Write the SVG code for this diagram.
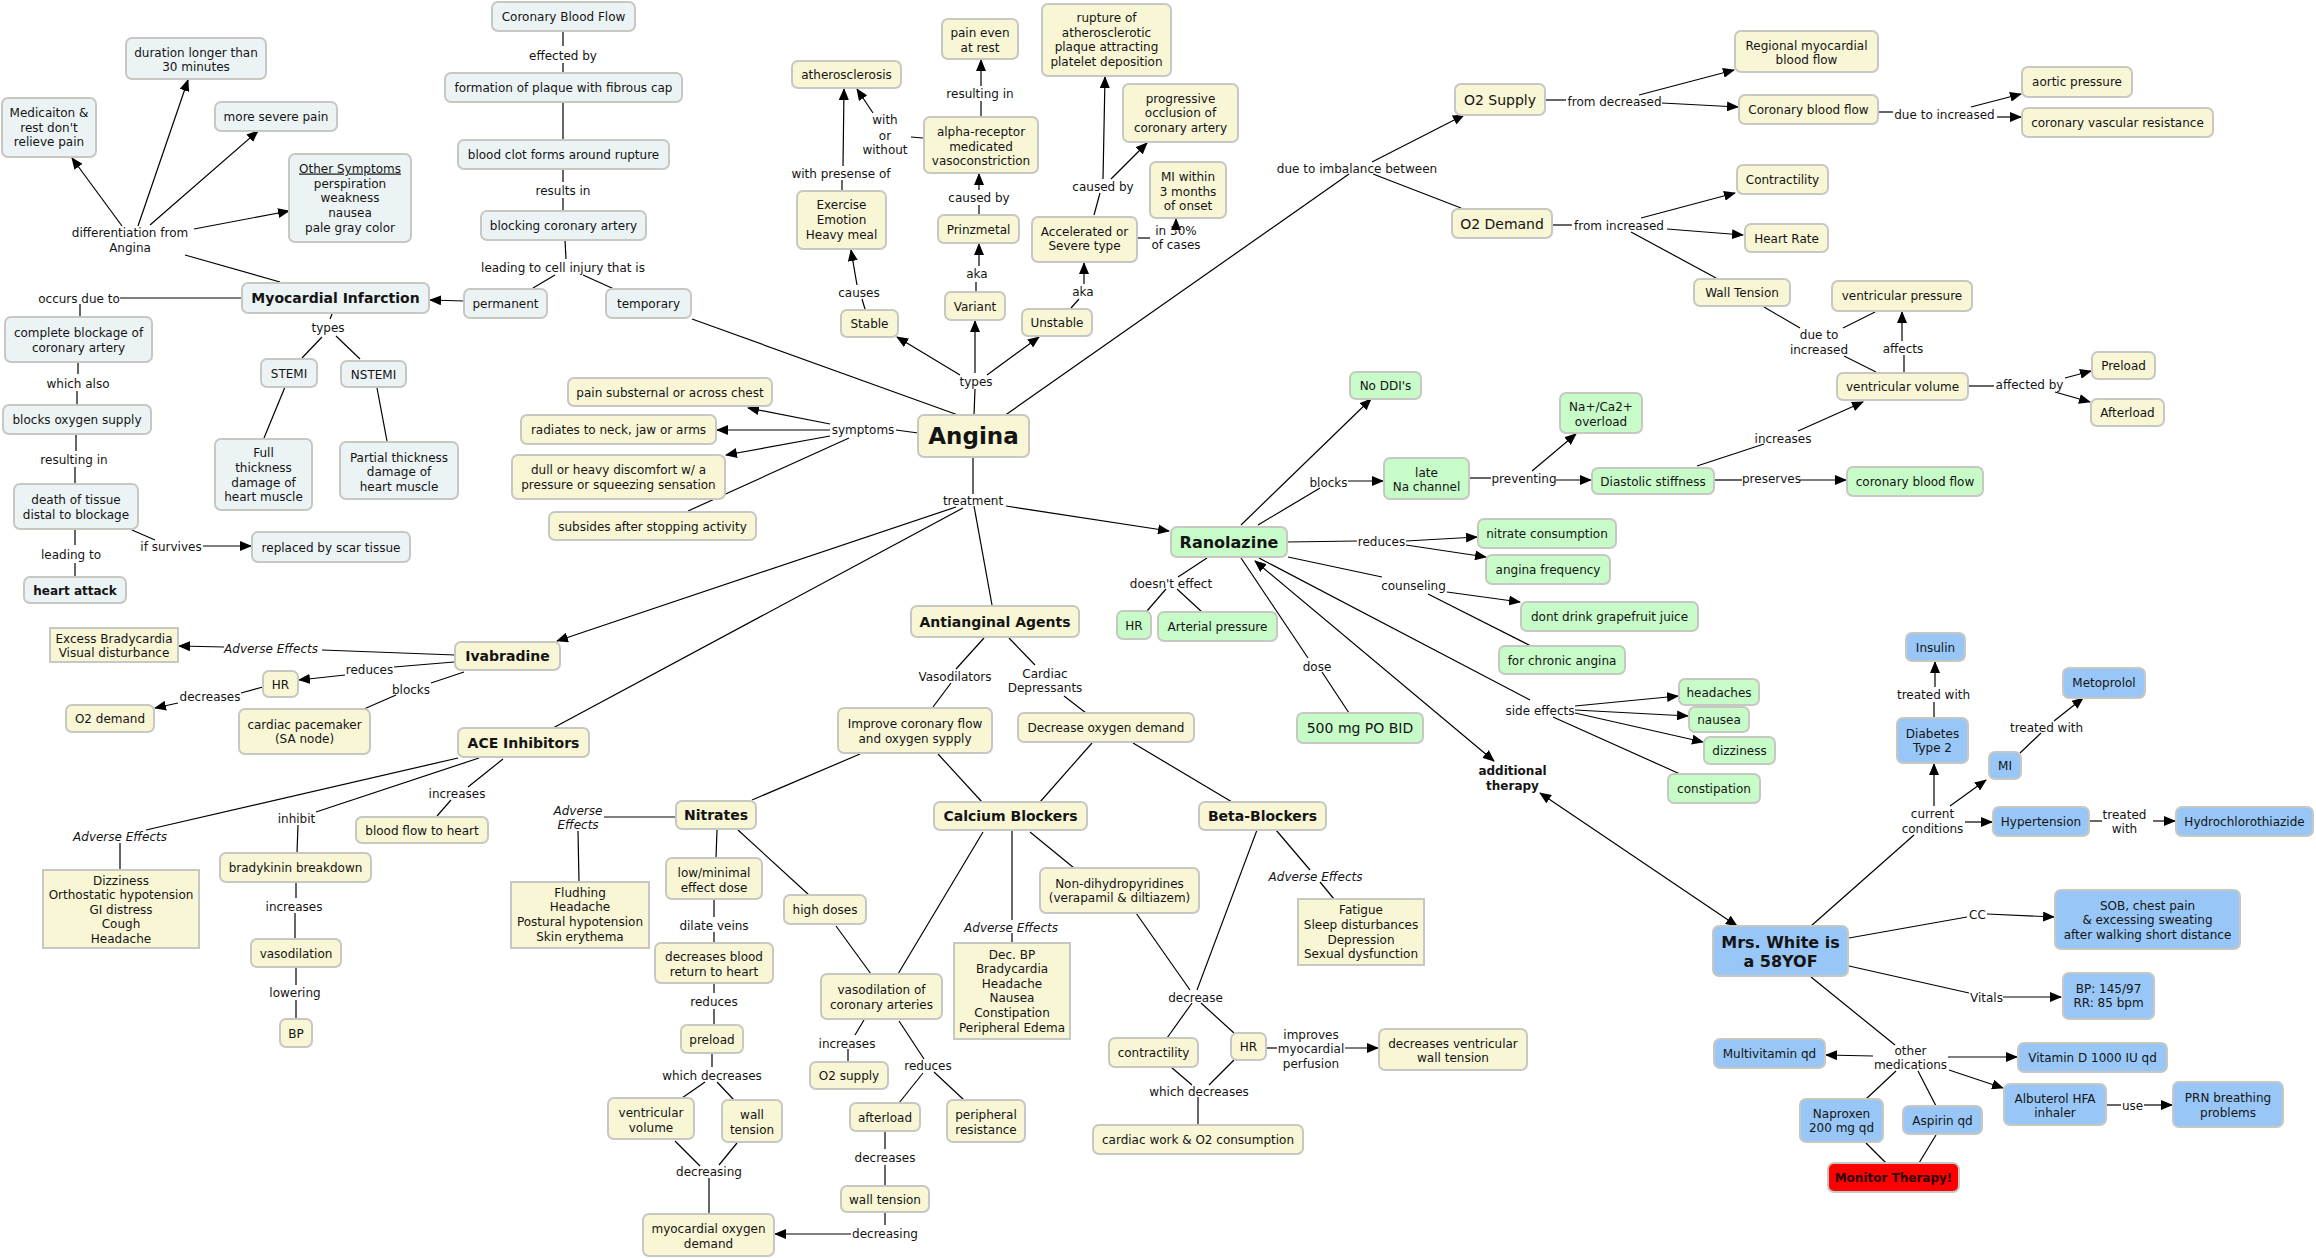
<svg xmlns="http://www.w3.org/2000/svg" width="2316" height="1258" viewBox="0 0 2316 1258">
<style>
text{font-family:"DejaVu Sans",Verdana,sans-serif;font-size:12px;fill:#141414;text-anchor:middle}
.n{stroke:#C8C8C2;stroke-width:2}
.b{fill:#ECF3F5}.y{fill:#F8F6D4}.g{fill:#C7FBC8}.l{fill:#98C7F7}.r{fill:#FF0000}
.bo{font-weight:bold}
.it{font-style:italic}
.f14{font-size:14px}.f16{font-size:16px}
#conn path{fill:none;stroke:#000;stroke-width:1.2}
#conn path.a{marker-end:url(#ah)}
#conn path.d{marker-start:url(#ah);marker-end:url(#ah)}
</style>
<defs><marker id="ah" viewBox="0 0 12 10" refX="11" refY="5" markerWidth="12" markerHeight="10" markerUnits="userSpaceOnUse" orient="auto-start-reverse"><path d="M0,0 L12,5 L0,10 z" fill="#000"/></marker></defs>
<rect width="2316" height="1258" fill="#fff"/>
<g id="conn">
<path d="M563,31 L563,46"/><path d="M563,63 L563,73"/>
<path d="M563,102 L563,140"/>
<path d="M563,169 L563,182"/><path d="M563,198 L563,211"/>
<path d="M565,240 L566,259"/><path d="M555,275 L533,288"/><path d="M583,275 L614,289"/>
<path class="a" d="M464,301 L430,300"/>
<path d="M280,282 L185,255"/>
<path class="a" d="M122,226 L72,158"/><path class="a" d="M138,226 L188,80"/><path class="a" d="M150,225 L258,131"/><path class="a" d="M194,229 L289,211"/>
<path d="M242,298 L120,298"/><path d="M80,304 L80,317"/>
<path d="M78,363 L78,374"/><path d="M77,391 L77,405"/>
<path d="M76,434 L76,451"/><path d="M75,467 L75,484"/>
<path d="M75,530 L75,545"/><path d="M75,563 L75,577"/>
<path d="M132,530 L155,540"/><path class="a" d="M203,546 L251,546"/>
<path d="M332,314 L330,319"/><path d="M322,337 L302,358"/><path d="M336,336 L360,359"/>
<path d="M285,387 L264,438"/><path d="M377,388 L387,441"/>
<path d="M692,319 L958,415"/>
<path d="M974,415 L975,389"/><path class="a" d="M975,373 L975,321"/><path class="a" d="M960,375 L897,337"/><path class="a" d="M987,375 L1039,337"/>
<path d="M865,309 L862,299"/><path class="a" d="M857,285 L851,250"/>
<path d="M842,190 L842,180"/><path class="a" d="M843,166 L844,89"/>
<path d="M923,138 L911,137"/><path class="a" d="M873,113 L857,89"/>
<path d="M981,116 L981,101"/><path class="a" d="M981,86 L981,60"/>
<path d="M979,214 L979,205"/><path class="a" d="M979,190 L979,174"/>
<path d="M976,292 L976,282"/><path class="a" d="M979,266 L979,244"/>
<path d="M1071,308 L1079,299"/><path class="a" d="M1084,284 L1084,263"/>
<path d="M1094,215 L1100,193"/><path class="a" d="M1103,179 L1105,77"/><path class="a" d="M1111,179 L1147,143"/>
<path d="M1137,238 L1150,238"/><path class="a" d="M1176,229 L1176,219"/>
<path d="M1004,416 L1349,174"/>
<path class="a" d="M1372,162 L1464,115"/><path d="M1373,174 L1461,208"/>
<path d="M1545,100 L1566,100"/><path class="a" d="M1639,95 L1734,70"/><path class="a" d="M1662,103 L1738,107"/>
<path d="M1878,112 L1893,112"/><path class="a" d="M1971,107 L2021,94"/><path class="a" d="M1997,117 L2021,117"/>
<path d="M1552,225 L1572,225"/><path class="a" d="M1641,218 L1735,193"/><path class="a" d="M1667,229 L1743,235"/><path d="M1631,232 L1716,278"/>
<path d="M1764,307 L1800,328"/><path d="M1843,328 L1875,312"/><path d="M1844,356 L1876,372"/>
<path d="M1904,372 L1904,355"/><path class="a" d="M1902,341 L1902,312"/>
<path d="M1968,386 L1994,386"/><path class="a" d="M2065,378 L2091,371"/><path class="a" d="M2055,392 L2090,402"/>
<path d="M918,433 L896,430"/><path class="a" d="M830,424 L748,408"/><path class="a" d="M830,430 L717,430"/><path class="a" d="M830,436 L726,455"/><path d="M849,438 L688,511"/>
<path d="M973,457 L973,494"/>
<path class="a" d="M956,507 L557,641"/><path d="M963,508 L553,728"/><path d="M974,506 L992,605"/><path class="a" d="M1006,506 L1169,531"/>
<path d="M455,655 L322,650"/><path class="a" d="M224,647 L179,646"/>
<path d="M454,662 L394,667"/><path class="a" d="M345,675 L299,680"/>
<path d="M263,687 L241,693"/><path class="a" d="M178,703 L155,708"/>
<path d="M464,672 L431,683"/><path d="M396,695 L364,709"/>
<path d="M458,758 L146,830"/><path d="M479,758 L316,812"/><path d="M298,825 L297,853"/><path d="M503,759 L468,787"/><path d="M451,800 L437,816"/>
<path d="M120,843 L120,870"/>
<path d="M296,882 L296,898"/><path d="M295,913 L295,939"/>
<path d="M296,967 L296,985"/><path d="M296,1000 L296,1019"/>
<path d="M604,817 L676,817"/><path d="M578,831 L579,882"/>
<path d="M984,638 L956,669"/><path d="M951,683 L933,707"/><path d="M1009,638 L1035,665"/><path d="M1064,696 L1086,713"/>
<path d="M860,754 L752,800"/><path d="M938,754 L982,802"/><path d="M1092,743 L1040,802"/><path d="M1133,743 L1232,802"/>
<path d="M717,830 L716,858"/><path d="M738,830 L809,895"/>
<path d="M714,899 L714,917"/><path d="M714,932 L714,943"/>
<path d="M714,983 L714,993"/><path d="M714,1009 L714,1025"/>
<path d="M712,1053 L712,1067"/><path d="M705,1082 L682,1098"/><path d="M717,1082 L734,1100"/>
<path d="M675,1141 L700,1166"/><path d="M737,1143 L719,1165"/><path d="M709,1178 L709,1214"/>
<path d="M836,926 L871,974"/><path d="M983,832 L898,974"/>
<path d="M864,1020 L855,1035"/><path d="M848,1049 L848,1062"/>
<path d="M899,1021 L924,1059"/><path d="M923,1073 L899,1103"/><path d="M934,1072 L964,1100"/>
<path d="M885,1131 L885,1149"/><path d="M885,1165 L885,1186"/>
<path d="M885,1212 L885,1225"/><path class="a" d="M851,1234 L775,1234"/>
<path d="M1012,830 L1012,920"/><path d="M1012,933 L1012,943"/><path d="M1030,832 L1074,868"/>
<path d="M1257,830 L1197,990"/><path d="M1276,830 L1310,870"/><path d="M1320,882 L1334,899"/>
<path d="M1136,913 L1190,990"/>
<path d="M1192,1003 L1167,1038"/><path d="M1201,1003 L1234,1033"/>
<path d="M1266,1048 L1277,1048"/><path class="a" d="M1345,1048 L1378,1048"/>
<path d="M1171,1067 L1192,1085"/><path d="M1234,1060 L1209,1085"/><path d="M1198,1097 L1198,1125"/>
<path class="a" d="M1241,525 L1371,399"/>
<path d="M1258,525 L1320,488"/><path class="a" d="M1348,481 L1383,481"/>
<path d="M1469,478 L1491,478"/><path class="a" d="M1556,480 L1591,480"/><path class="a" d="M1532,471 L1576,434"/>
<path d="M1697,466 L1764,444"/><path class="a" d="M1798,431 L1863,402"/>
<path d="M1714,480 L1742,480"/><path class="a" d="M1800,480 L1846,480"/>
<path d="M1287,542 L1357,541"/><path class="a" d="M1406,541 L1477,537"/><path class="a" d="M1406,545 L1486,557"/>
<path d="M1288,557 L1382,577"/><path class="a" d="M1447,592 L1520,602"/><path d="M1428,594 L1531,646"/>
<path d="M1207,558 L1178,577"/><path d="M1166,589 L1147,611"/><path d="M1177,589 L1202,612"/>
<path d="M1349,713 L1322,672"/><path d="M1308,658 L1241,558"/>
<path class="d" d="M1255,561 L1494,761"/>
<path d="M1259,558 L1530,700"/><path class="a" d="M1575,706 L1678,696"/><path class="a" d="M1575,710 L1688,716"/><path class="a" d="M1575,713 L1703,742"/><path d="M1553,717 L1680,774"/>
<path class="d" d="M1540,793 L1737,926"/>
<path d="M1934,718 L1934,702"/><path class="a" d="M1935,687 L1935,662"/>
<path d="M2020,753 L2041,733"/><path class="a" d="M2054,721 L2083,698"/>
<path class="a" d="M1934,806 L1934,764"/><path class="a" d="M1950,806 L1986,780"/><path class="a" d="M1965,822 L1992,822"/>
<path d="M2089,821 L2102,821"/><path class="a" d="M2153,821 L2175,821"/>
<path d="M1914,835 L1811,926"/>
<path d="M1849,938 L1967,917"/><path class="a" d="M1987,914 L2054,917"/>
<path d="M1849,966 L1969,993"/><path class="a" d="M2003,997 L2061,997"/>
<path d="M1811,977 L1895,1045"/><path class="a" d="M1873,1056 L1826,1055"/><path class="a" d="M1948,1057 L2017,1057"/><path class="a" d="M1949,1070 L2003,1088"/>
<path d="M2106,1105 L2121,1105"/><path class="a" d="M2144,1105 L2172,1105"/>
<path d="M1896,1071 L1866,1099"/><path d="M1918,1071 L1936,1106"/>
<path d="M1866,1143 L1886,1163"/><path d="M1936,1135 L1919,1163"/>
<g id="labels">
<text x="563" y="59.5">effected by</text>
<text x="563" y="194.5">results in</text>
<text x="563" y="271.5">leading to cell injury that is</text>
<text x="130"><tspan x="130" y="236.5">differentiation from</tspan><tspan x="130" y="251.5">Angina</tspan></text>
<text x="328" y="331.5">types</text>
<text x="79" y="302.5">occurs due to</text>
<text x="78" y="387.5">which also</text>
<text x="74" y="463.5">resulting in</text>
<text x="71" y="558.5">leading to</text>
<text x="171" y="550.5">if survives</text>
<text x="863" y="433.5">symptoms</text>
<text x="973" y="504.5">treatment</text>
<text x="976" y="385.5">types</text>
<text x="859" y="296.5">causes</text>
<text x="841" y="177.5">with presense of</text>
<text x="885"><tspan x="885" y="123.5">with</tspan><tspan x="885" y="139.5">or</tspan><tspan x="885" y="153.5">without</tspan></text>
<text x="980" y="97.5">resulting in</text>
<text x="979" y="201.5">caused by</text>
<text x="977" y="277.5">aka</text>
<text x="1083" y="295.5">aka</text>
<text x="1103" y="190.5">caused by</text>
<text x="1176"><tspan x="1176" y="234.5">in 30%</tspan><tspan x="1176" y="248.5">of cases</tspan></text>
<text x="1357" y="172.5">due to imbalance between</text>
<text x="1614.5" y="105.5">from decreased</text>
<text x="1944.5" y="118.5">due to increased</text>
<text x="1619" y="229.5">from increased</text>
<text x="1819"><tspan x="1819" y="338.5">due to</tspan><tspan x="1819" y="353.5">increased</tspan></text>
<text x="1903" y="352.5">affects</text>
<text x="2029.5" y="388.5">affected by</text>
<text x="1783" y="442.5">increases</text>
<text x="1771.5" y="482.5">preserves</text>
<text x="1328.5" y="486.5">blocks</text>
<text x="1524" y="482.5">preventing</text>
<text x="1381.5" y="545.5">reduces</text>
<text x="1413.5" y="589.5">counseling</text>
<text x="1171" y="587.5">doesn't effect</text>
<text x="1317" y="670.5">dose</text>
<text x="1540" y="714.5">side effects</text>
<text class="bo" x="1512.5"><tspan x="1512.5" y="774.5">additional</tspan><tspan x="1512.5" y="789.5">therapy</tspan></text>
<text x="1933.5" y="698.5">treated with</text>
<text x="2046.5" y="731.5">treated with</text>
<text x="1932.5"><tspan x="1932.5" y="817.5">current</tspan><tspan x="1932.5" y="832.5">conditions</tspan></text>
<text x="2124.5"><tspan x="2124.5" y="818.5">treated</tspan><tspan x="2124.5" y="832.5">with</tspan></text>
<text x="1977.5" y="918.5">CC</text>
<text x="1986.5" y="1001.5">Vitals</text>
<text x="1910.5"><tspan x="1910.5" y="1054.5">other</tspan><tspan x="1910.5" y="1068.5">medications</tspan></text>
<text x="2132.5" y="1109.5">use</text>
<text class="it" x="271" y="652.5">Adverse Effects</text>
<text x="369.5" y="673.5">reduces</text>
<text x="210" y="700.5">decreases</text>
<text x="411" y="693.5">blocks</text>
<text class="it" x="120" y="840.5">Adverse Effects</text>
<text x="296.5" y="822.5">inhibit</text>
<text x="457" y="797.5">increases</text>
<text x="294" y="910.5">increases</text>
<text x="295" y="996.5">lowering</text>
<text class="it" x="578"><tspan x="578" y="814.5">Adverse</tspan><tspan x="578" y="828.5">Effects</tspan></text>
<text x="955" y="680.5">Vasodilators</text>
<text x="1045"><tspan x="1045" y="677.5">Cardiac</tspan><tspan x="1045" y="691.5">Depressants</tspan></text>
<text x="714" y="929.5">dilate veins</text>
<text x="714" y="1005.5">reduces</text>
<text x="712" y="1079.5">which decreases</text>
<text x="709" y="1175.5">decreasing</text>
<text x="847" y="1047.5">increases</text>
<text x="928" y="1069.5">reduces</text>
<text x="885" y="1161.5">decreases</text>
<text x="885" y="1237.5">decreasing</text>
<text class="it" x="1011" y="931.5">Adverse Effects</text>
<text class="it" x="1315.5" y="880.5">Adverse Effects</text>
<text x="1195.5" y="1001.5">decrease</text>
<text x="1311"><tspan x="1311" y="1038.5">improves</tspan><tspan x="1311" y="1052.5">myocardial</tspan><tspan x="1311" y="1067.5">perfusion</tspan></text>
<text x="1199" y="1095.5">which decreases</text>
</g>
</g>
<g id="n-cbf"><rect class="n b" x="492" y="2" width="143" height="29" rx="6"/><text x="563.5" y="20.5">Coronary Blood Flow</text></g>
<g id="n-form"><rect class="n b" x="445" y="73" width="237" height="29" rx="6"/><text x="563.5" y="91.5">formation of plaque with fibrous cap</text></g>
<g id="n-clot"><rect class="n b" x="458" y="140" width="211" height="29" rx="6"/><text x="563.5" y="158.5">blood clot forms around rupture</text></g>
<g id="n-blockca"><rect class="n b" x="481" y="211" width="165" height="29" rx="6"/><text x="563.5" y="229.5">blocking coronary artery</text></g>
<g id="n-perm"><rect class="n b" x="464" y="289" width="83" height="29" rx="6"/><text x="505.5" y="307.5">permanent</text></g>
<g id="n-temp"><rect class="n b" x="606" y="289" width="85" height="29" rx="6"/><text x="648.5" y="307.5">temporary</text></g>
<g id="n-mi"><rect class="n b" x="242" y="283" width="187" height="30" rx="6"/><text class="bo f14" x="335.5" y="303">Myocardial Infarction</text></g>
<g id="n-dur"><rect class="n b" x="126" y="38" width="140" height="41" rx="6"/><text x="196"><tspan x="196" y="56.5">duration longer than</tspan><tspan x="196" y="70.5">30 minutes</tspan></text></g>
<g id="n-med"><rect class="n b" x="2" y="98" width="94" height="59" rx="6"/><text x="49"><tspan x="49" y="116.5">Medicaiton &amp;</tspan><tspan x="49" y="131.5">rest don't</tspan><tspan x="49" y="145.5">relieve pain</tspan></text></g>
<g id="n-sev"><rect class="n b" x="215" y="102" width="122" height="29" rx="6"/><text x="276" y="120.5">more severe pain</text></g>
<g id="n-oth"><rect class="n b" x="289" y="154" width="122" height="88" rx="6"/><text x="350"><tspan x="350" y="172.5" text-decoration="underline">Other Symptoms</tspan><tspan x="350" y="187.5">perspiration</tspan><tspan x="350" y="201.5">weakness</tspan><tspan x="350" y="216.5">nausea</tspan><tspan x="350" y="231.5">pale gray color</tspan></text></g>
<g id="n-comp"><rect class="n b" x="5" y="317" width="147" height="45" rx="6"/><text x="78.5"><tspan x="78.5" y="336.5">complete blockage of</tspan><tspan x="78.5" y="351.5">coronary artery</tspan></text></g>
<g id="n-stemi"><rect class="n b" x="261" y="359" width="56" height="28" rx="6"/><text x="289" y="377.5">STEMI</text></g>
<g id="n-nstemi"><rect class="n b" x="341" y="361" width="65" height="26" rx="6"/><text x="373.5" y="378.5">NSTEMI</text></g>
<g id="n-box"><rect class="n b" x="3" y="405" width="148" height="29" rx="6"/><text x="77" y="424">blocks oxygen supply</text></g>
<g id="n-death"><rect class="n b" x="14" y="484" width="124" height="45" rx="6"/><text x="76"><tspan x="76" y="503.5">death of tissue</tspan><tspan x="76" y="518.5">distal to blockage</tspan></text></g>
<g id="n-ha"><rect class="n b" x="24" y="577" width="102" height="26" rx="6"/><text class="bo" x="75" y="594.5">heart attack</text></g>
<g id="n-scar"><rect class="n b" x="252" y="532" width="158" height="30" rx="6"/><text x="331" y="551.5">replaced by scar tissue</text></g>
<g id="n-full"><rect class="n b" x="215" y="439" width="97" height="71" rx="6"/><text x="263.5"><tspan x="263.5" y="457">Full</tspan><tspan x="263.5" y="471.5">thickness</tspan><tspan x="263.5" y="486.5">damage of</tspan><tspan x="263.5" y="501">heart muscle</tspan></text></g>
<g id="n-part"><rect class="n b" x="340" y="442" width="118" height="57" rx="6"/><text x="399"><tspan x="399" y="461.5">Partial thickness</tspan><tspan x="399" y="475.5">damage of</tspan><tspan x="399" y="490.5">heart muscle</tspan></text></g>
<g id="n-angina"><rect class="n y" x="918" y="415" width="111" height="42" rx="6"/><text class="bo" style="font-size:23px" x="973.5" y="444">Angina</text></g>
<g id="n-pain"><rect class="n y" x="568" y="378" width="204" height="28" rx="6"/><text x="670" y="396.5">pain substernal or across chest</text></g>
<g id="n-rad"><rect class="n y" x="521" y="415" width="195" height="29" rx="6"/><text x="618.5" y="433.5">radiates to neck, jaw or arms</text></g>
<g id="n-dull"><rect class="n y" x="512" y="455" width="213" height="44" rx="6"/><text x="618.5"><tspan x="618.5" y="473.5">dull or heavy discomfort w/ a</tspan><tspan x="618.5" y="488.5">pressure or squeezing sensation</tspan></text></g>
<g id="n-sub"><rect class="n y" x="549" y="512" width="207" height="28" rx="6"/><text x="652.5" y="530.5">subsides after stopping activity</text></g>
<g id="n-ath"><rect class="n y" x="792" y="61" width="109" height="27" rx="6"/><text x="846.5" y="78.5">atherosclerosis</text></g>
<g id="n-rest"><rect class="n y" x="942" y="19" width="76" height="40" rx="6"/><text x="980"><tspan x="980" y="36.5">pain even</tspan><tspan x="980" y="51.5">at rest</tspan></text></g>
<g id="n-rupt"><rect class="n y" x="1042" y="4" width="129" height="72" rx="6"/><text x="1106.5"><tspan x="1106.5" y="21.5">rupture of</tspan><tspan x="1106.5" y="36.5">atherosclerotic</tspan><tspan x="1106.5" y="50.5">plaque attracting</tspan><tspan x="1106.5" y="65.5">platelet deposition</tspan></text></g>
<g id="n-prog"><rect class="n y" x="1123" y="84" width="115" height="58" rx="6"/><text x="1180.5"><tspan x="1180.5" y="102.5">progressive</tspan><tspan x="1180.5" y="116.5">occlusion of</tspan><tspan x="1180.5" y="131.5">coronary artery</tspan></text></g>
<g id="n-miw"><rect class="n y" x="1150" y="162" width="76" height="56" rx="6"/><text x="1188"><tspan x="1188" y="180.5">MI within</tspan><tspan x="1188" y="195.5">3 months</tspan><tspan x="1188" y="209.5">of onset</tspan></text></g>
<g id="n-ex"><rect class="n y" x="797" y="191" width="89" height="58" rx="6"/><text x="841.5"><tspan x="841.5" y="208.5">Exercise</tspan><tspan x="841.5" y="223.5">Emotion</tspan><tspan x="841.5" y="238.5">Heavy meal</tspan></text></g>
<g id="n-alpha"><rect class="n y" x="924" y="117" width="114" height="56" rx="6"/><text x="981"><tspan x="981" y="135.5">alpha-receptor</tspan><tspan x="981" y="150.5">medicated</tspan><tspan x="981" y="164.5">vasoconstriction</tspan></text></g>
<g id="n-prinz"><rect class="n y" x="938" y="215" width="81" height="28" rx="6"/><text x="978.5" y="233.5">Prinzmetal</text></g>
<g id="n-var"><rect class="n y" x="945" y="292" width="60" height="28" rx="6"/><text x="975" y="310.5">Variant</text></g>
<g id="n-stable"><rect class="n y" x="841" y="310" width="57" height="27" rx="6"/><text x="869.5" y="328">Stable</text></g>
<g id="n-unst"><rect class="n y" x="1022" y="309" width="70" height="27" rx="6"/><text x="1057" y="327">Unstable</text></g>
<g id="n-acc"><rect class="n y" x="1032" y="217" width="105" height="45" rx="6"/><text x="1084.5"><tspan x="1084.5" y="235.5">Accelerated or</tspan><tspan x="1084.5" y="249.5">Severe type</tspan></text></g>
<g id="n-o2s"><rect class="n y" x="1455" y="84" width="90" height="31" rx="6"/><text class="f14" x="1500" y="105">O2 Supply</text></g>
<g id="n-o2d"><rect class="n y" x="1452" y="209" width="100" height="29" rx="6"/><text class="f14" x="1502" y="229">O2 Demand</text></g>
<g id="n-reg"><rect class="n y" x="1735" y="31" width="143" height="41" rx="6"/><text x="1806.5"><tspan x="1806.5" y="49.5">Regional myocardial</tspan><tspan x="1806.5" y="63.5">blood flow</tspan></text></g>
<g id="n-cbf2"><rect class="n y" x="1739" y="95" width="139" height="29" rx="6"/><text x="1808.5" y="113.5">Coronary blood flow</text></g>
<g id="n-aort"><rect class="n y" x="2022" y="67" width="110" height="30" rx="6"/><text x="2077" y="85.5">aortic pressure</text></g>
<g id="n-cvr"><rect class="n y" x="2022" y="108" width="191" height="29" rx="6"/><text x="2117.5" y="126.5">coronary vascular resistance</text></g>
<g id="n-contr"><rect class="n y" x="1737" y="165" width="91" height="29" rx="6"/><text x="1782.5" y="183.5">Contractility</text></g>
<g id="n-hrate"><rect class="n y" x="1745" y="224" width="83" height="28" rx="6"/><text x="1786.5" y="242.5">Heart Rate</text></g>
<g id="n-wt"><rect class="n y" x="1694" y="279" width="96" height="27" rx="6"/><text x="1742" y="297">Wall Tension</text></g>
<g id="n-vp"><rect class="n y" x="1832" y="281" width="140" height="30" rx="6"/><text x="1902" y="300">ventricular pressure</text></g>
<g id="n-vv"><rect class="n y" x="1837" y="373" width="131" height="27" rx="6"/><text x="1902.5" y="391">ventricular volume</text></g>
<g id="n-pre"><rect class="n y" x="2092" y="352" width="63" height="27" rx="6"/><text x="2123.5" y="370">Preload</text></g>
<g id="n-aft"><rect class="n y" x="2091" y="399" width="73" height="27" rx="6"/><text x="2127.5" y="417">Afterload</text></g>
<g id="n-iva"><rect class="n y" x="455" y="642" width="105" height="28" rx="6"/><text class="bo f14" x="507.5" y="661">Ivabradine</text></g>
<g id="n-exb"><rect class="n y" x="50" y="628" width="128" height="34"/><text x="114"><tspan x="114" y="642.5">Excess Bradycardia</tspan><tspan x="114" y="656.5">Visual disturbance</tspan></text></g>
<g id="n-hr1"><rect class="n y" x="263" y="671" width="35" height="26" rx="6"/><text x="280.5" y="688.5">HR</text></g>
<g id="n-o2dem"><rect class="n y" x="66" y="705" width="88" height="27" rx="6"/><text x="110" y="723">O2 demand</text></g>
<g id="n-pace"><rect class="n y" x="239" y="709" width="131" height="45" rx="6"/><text x="304.5"><tspan x="304.5" y="728.5">cardiac pacemaker</tspan><tspan x="304.5" y="742.5">(SA node)</tspan></text></g>
<g id="n-ace"><rect class="n y" x="458" y="728" width="131" height="29" rx="6"/><text class="bo f14" x="523.5" y="747.5">ACE Inhibitors</text></g>
<g id="n-bfh"><rect class="n y" x="356" y="817" width="132" height="26" rx="6"/><text x="422" y="834.5">blood flow to heart</text></g>
<g id="n-dizz"><rect class="n y" x="43" y="870" width="156" height="78"/><text x="121"><tspan x="121" y="884.5">Dizziness</tspan><tspan x="121" y="898.5">Orthostatic hypotension</tspan><tspan x="121" y="913.5">GI distress</tspan><tspan x="121" y="927.5">Cough</tspan><tspan x="121" y="942.5">Headache</tspan></text></g>
<g id="n-brad"><rect class="n y" x="220" y="853" width="151" height="29" rx="6"/><text x="295.5" y="871.5">bradykinin breakdown</text></g>
<g id="n-vaso"><rect class="n y" x="251" y="939" width="90" height="28" rx="6"/><text x="296" y="957.5">vasodilation</text></g>
<g id="n-bp"><rect class="n y" x="280" y="1019" width="32" height="28" rx="6"/><text x="296" y="1037.5">BP</text></g>
<g id="n-flud"><rect class="n y" x="511" y="882" width="138" height="66"/><text x="580"><tspan x="580" y="896.5">Fludhing</tspan><tspan x="580" y="910.5">Headache</tspan><tspan x="580" y="925.5">Postural hypotension</tspan><tspan x="580" y="940.5">Skin erythema</tspan></text></g>
<g id="n-anti"><rect class="n y" x="911" y="606" width="168" height="31" rx="6"/><text class="bo f14" x="995" y="626.5">Antianginal Agents</text></g>
<g id="n-impr"><rect class="n y" x="838" y="708" width="154" height="45" rx="6"/><text x="915"><tspan x="915" y="727.5">Improve coronary flow</tspan><tspan x="915" y="742.5">and oxygen sypply</tspan></text></g>
<g id="n-decr"><rect class="n y" x="1018" y="713" width="176" height="29" rx="6"/><text x="1106" y="732">Decrease oxygen demand</text></g>
<g id="n-nit"><rect class="n y" x="676" y="801" width="80" height="28" rx="6"/><text class="bo f14" x="716" y="820">Nitrates</text></g>
<g id="n-cal"><rect class="n y" x="934" y="802" width="153" height="28" rx="6"/><text class="bo f14" x="1010.5" y="821">Calcium Blockers</text></g>
<g id="n-beta"><rect class="n y" x="1199" y="802" width="127" height="28" rx="6"/><text class="bo f14" x="1262.5" y="821">Beta-Blockers</text></g>
<g id="n-low"><rect class="n y" x="666" y="858" width="96" height="41" rx="6"/><text x="714"><tspan x="714" y="876.5">low/minimal</tspan><tspan x="714" y="891.5">effect dose</tspan></text></g>
<g id="n-dbr"><rect class="n y" x="655" y="943" width="118" height="40" rx="6"/><text x="714"><tspan x="714" y="960.5">decreases blood</tspan><tspan x="714" y="975.5">return to heart</tspan></text></g>
<g id="n-preload"><rect class="n y" x="681" y="1025" width="62" height="28" rx="6"/><text x="712" y="1043.5">preload</text></g>
<g id="n-vv2"><rect class="n y" x="608" y="1098" width="86" height="41" rx="6"/><text x="651"><tspan x="651" y="1116.5">ventricular</tspan><tspan x="651" y="1131.5">volume</tspan></text></g>
<g id="n-wt2"><rect class="n y" x="722" y="1100" width="60" height="42" rx="6"/><text x="752"><tspan x="752" y="1118.5">wall</tspan><tspan x="752" y="1133.5">tension</tspan></text></g>
<g id="n-mod"><rect class="n y" x="643" y="1214" width="131" height="42" rx="6"/><text x="708.5"><tspan x="708.5" y="1232.5">myocardial oxygen</tspan><tspan x="708.5" y="1247.5">demand</tspan></text></g>
<g id="n-high"><rect class="n y" x="784" y="895" width="82" height="29" rx="6"/><text x="825" y="913.5">high doses</text></g>
<g id="n-vca"><rect class="n y" x="821" y="974" width="121" height="45" rx="6"/><text x="881.5"><tspan x="881.5" y="993.5">vasodilation of</tspan><tspan x="881.5" y="1008.5">coronary arteries</tspan></text></g>
<g id="n-o2sup"><rect class="n y" x="810" y="1062" width="78" height="27" rx="6"/><text x="849" y="1080">O2 supply</text></g>
<g id="n-afterl"><rect class="n y" x="850" y="1103" width="70" height="28" rx="6"/><text x="885" y="1121.5">afterload</text></g>
<g id="n-peri"><rect class="n y" x="947" y="1100" width="78" height="42" rx="6"/><text x="986"><tspan x="986" y="1118.5">peripheral</tspan><tspan x="986" y="1133.5">resistance</tspan></text></g>
<g id="n-wt3"><rect class="n y" x="841" y="1186" width="88" height="26" rx="6"/><text x="885" y="1203.5">wall tension</text></g>
<g id="n-decbp"><rect class="n y" x="954" y="943" width="116" height="96"/><text x="1012"><tspan x="1012" y="958.5">Dec. BP</tspan><tspan x="1012" y="972.5">Bradycardia</tspan><tspan x="1012" y="987.5">Headache</tspan><tspan x="1012" y="1001.5">Nausea</tspan><tspan x="1012" y="1016.5">Constipation</tspan><tspan x="1012" y="1031.5">Peripheral Edema</tspan></text></g>
<g id="n-nond"><rect class="n y" x="1040" y="868" width="159" height="45" rx="6"/><text x="1119.5"><tspan x="1119.5" y="887.5">Non-dihydropyridines</tspan><tspan x="1119.5" y="901.5">(verapamil &amp; diltiazem)</tspan></text></g>
<g id="n-fat"><rect class="n y" x="1298" y="899" width="126" height="66"/><text x="1361"><tspan x="1361" y="913.5">Fatigue</tspan><tspan x="1361" y="928.5">Sleep disturbances</tspan><tspan x="1361" y="943.5">Depression</tspan><tspan x="1361" y="957.5">Sexual dysfunction</tspan></text></g>
<g id="n-contr2"><rect class="n y" x="1109" y="1038" width="89" height="29" rx="6"/><text x="1153.5" y="1056.5">contractility</text></g>
<g id="n-hr3"><rect class="n y" x="1231" y="1033" width="35" height="27" rx="6"/><text x="1248.5" y="1051">HR</text></g>
<g id="n-dvwt"><rect class="n y" x="1379" y="1029" width="148" height="41" rx="6"/><text x="1453"><tspan x="1453" y="1047.5">decreases ventricular</tspan><tspan x="1453" y="1061.5">wall tension</tspan></text></g>
<g id="n-cw"><rect class="n y" x="1093" y="1125" width="210" height="29" rx="6"/><text x="1198" y="1143.5">cardiac work &amp; O2 consumption</text></g>
<g id="n-ran"><rect class="n g" x="1171" y="527" width="116" height="30" rx="6"/><text class="bo f16" x="1229" y="548">Ranolazine</text></g>
<g id="n-ddi"><rect class="n g" x="1350" y="372" width="71" height="27" rx="6"/><text x="1385.5" y="390">No DDI's</text></g>
<g id="n-late"><rect class="n g" x="1384" y="458" width="85" height="41" rx="6"/><text x="1426.5"><tspan x="1426.5" y="476.5">late</tspan><tspan x="1426.5" y="490.5">Na channel</tspan></text></g>
<g id="n-naca"><rect class="n g" x="1560" y="393" width="82" height="40" rx="6"/><text x="1601"><tspan x="1601" y="410.5">Na+/Ca2+</tspan><tspan x="1601" y="425.5">overload</tspan></text></g>
<g id="n-dias"><rect class="n g" x="1592" y="468" width="122" height="26" rx="6"/><text x="1653" y="485.5">Diastolic stiffness</text></g>
<g id="n-cbf3"><rect class="n g" x="1847" y="467" width="136" height="29" rx="6"/><text x="1915" y="485.5">coronary blood flow</text></g>
<g id="n-nitc"><rect class="n g" x="1478" y="519" width="138" height="29" rx="6"/><text x="1547" y="537.5">nitrate consumption</text></g>
<g id="n-angf"><rect class="n g" x="1486" y="555" width="124" height="29" rx="6"/><text x="1548" y="573.5">angina frequency</text></g>
<g id="n-grape"><rect class="n g" x="1521" y="602" width="177" height="29" rx="6"/><text x="1609.5" y="620.5">dont drink grapefruit juice</text></g>
<g id="n-chron"><rect class="n g" x="1499" y="646" width="126" height="28" rx="6"/><text x="1562" y="664.5">for chronic angina</text></g>
<g id="n-hr2"><rect class="n g" x="1117" y="611" width="34" height="28" rx="6"/><text x="1134" y="629.5">HR</text></g>
<g id="n-art"><rect class="n g" x="1158" y="612" width="119" height="29" rx="6"/><text x="1217.5" y="630.5">Arterial pressure</text></g>
<g id="n-dose"><rect class="n g" x="1297" y="713" width="126" height="30" rx="6"/><text class="f14" x="1360" y="733">500 mg PO BID</text></g>
<g id="n-head"><rect class="n g" x="1679" y="679" width="80" height="26" rx="6"/><text x="1719" y="696.5">headaches</text></g>
<g id="n-naus"><rect class="n g" x="1689" y="707" width="60" height="25" rx="6"/><text x="1719" y="724">nausea</text></g>
<g id="n-dzz"><rect class="n g" x="1704" y="737" width="71" height="27" rx="6"/><text x="1739.5" y="755">dizziness</text></g>
<g id="n-const"><rect class="n g" x="1668" y="774" width="92" height="29" rx="6"/><text x="1714" y="793">constipation</text></g>
<g id="n-ins"><rect class="n l" x="1906" y="633" width="59" height="28" rx="6"/><text x="1935.5" y="651.5">Insulin</text></g>
<g id="n-diab"><rect class="n l" x="1897" y="718" width="71" height="45" rx="6"/><text x="1932.5"><tspan x="1932.5" y="737.5">Diabetes</tspan><tspan x="1932.5" y="751.5">Type 2</tspan></text></g>
<g id="n-meto"><rect class="n l" x="2063" y="668" width="82" height="30" rx="6"/><text x="2104" y="686.5">Metoprolol</text></g>
<g id="n-mi2"><rect class="n l" x="1989" y="752" width="32" height="27" rx="6"/><text x="2005" y="770">MI</text></g>
<g id="n-htn"><rect class="n l" x="1993" y="807" width="96" height="29" rx="6"/><text x="2041" y="825.5">Hypertension</text></g>
<g id="n-hctz"><rect class="n l" x="2176" y="807" width="137" height="29" rx="6"/><text x="2244.5" y="825.5">Hydrochlorothiazide</text></g>
<g id="n-white"><rect class="n l" x="1713" y="926" width="135" height="50" rx="6"/><text class="bo f16" x="1780.5"><tspan x="1780.5" y="948">Mrs. White is</tspan><tspan x="1780.5" y="967">a 58YOF</tspan></text></g>
<g id="n-sob"><rect class="n l" x="2055" y="890" width="185" height="59" rx="6"/><text x="2147.5"><tspan x="2147.5" y="909.5">SOB, chest pain</tspan><tspan x="2147.5" y="923.5">&amp; excessing sweating</tspan><tspan x="2147.5" y="938.5">after walking short distance</tspan></text></g>
<g id="n-vit"><rect class="n l" x="2063" y="973" width="91" height="46" rx="6"/><text x="2108.5"><tspan x="2108.5" y="992.5">BP: 145/97</tspan><tspan x="2108.5" y="1006.5">RR: 85 bpm</tspan></text></g>
<g id="n-multi"><rect class="n l" x="1714" y="1039" width="111" height="29" rx="6"/><text x="1769.5" y="1057.5">Multivitamin qd</text></g>
<g id="n-vitd"><rect class="n l" x="2018" y="1043" width="149" height="29" rx="6"/><text x="2092.5" y="1061.5">Vitamin D 1000 IU qd</text></g>
<g id="n-alb"><rect class="n l" x="2004" y="1084" width="102" height="41" rx="6"/><text x="2055"><tspan x="2055" y="1102.5">Albuterol HFA</tspan><tspan x="2055" y="1116.5">inhaler</tspan></text></g>
<g id="n-prn"><rect class="n l" x="2173" y="1082" width="110" height="45" rx="6"/><text x="2228"><tspan x="2228" y="1101.5">PRN breathing</tspan><tspan x="2228" y="1116.5">problems</tspan></text></g>
<g id="n-nap"><rect class="n l" x="1800" y="1099" width="83" height="43" rx="6"/><text x="1841.5"><tspan x="1841.5" y="1117.5">Naproxen</tspan><tspan x="1841.5" y="1131.5">200 mg qd</tspan></text></g>
<g id="n-asp"><rect class="n l" x="1903" y="1106" width="79" height="28" rx="6"/><text x="1942.5" y="1124.5">Aspirin qd</text></g>
<g id="n-mon"><rect class="n r" x="1828" y="1163" width="131" height="29" rx="6"/><text class="bo" style="fill:#2a0000" x="1893.5" y="1182">Monitor Therapy!</text></g>
</svg>
